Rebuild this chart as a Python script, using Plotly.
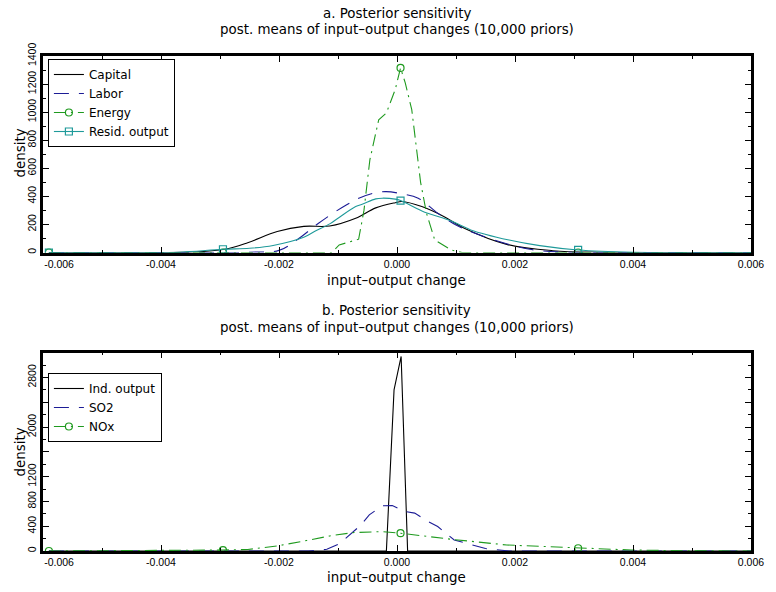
import numpy as np
import plotly.graph_objects as go

# ---------------- data ----------------
# panel a
cap_x = [-0.0059, -0.0045, -0.0035, -0.00292, -0.00253, -0.00203, -0.00158, -0.00114,
         -0.0007, -0.00036, -0.00003, 0.00008, 0.00042, 0.0008, 0.00114, 0.00186,
         0.00264, 0.0035, 0.0045, 0.006]
cap_y = [0, 0, 3, 23, 70, 150, 186, 189, 244, 318, 355, 363, 327, 255, 173, 58, 13, 2, 0, 0]

lab_x = [-0.0059, -0.0035, -0.0025, -0.0020, -0.0017, -0.00133, -0.00086, -0.00053,
         -0.0002, 0.00008, 0.00036, 0.00069, 0.001, 0.0013, 0.0018, 0.00225, 0.0028,
         0.0035, 0.006]
lab_y = [0, 0, 2, 15, 89, 208, 339, 406, 434, 418, 387, 280, 196, 140, 70, 23, 3, 0, 0]

en_x = [-0.0059, -0.00295, -0.0011, -0.00098, -0.00065, -0.00056, -0.00046, -0.00031,
        -0.00018, -0.00003, 0.00006, 0.00014, 0.00025, 0.0004, 0.0005, 0.00064, 0.00092,
        0.0011, 0.00307, 0.006]
en_y = [0, 0, 0, 54, 95, 300, 660, 946, 994, 1161, 1315, 1208, 1018, 500, 280, 89, 18,
        0, 0, 0]

res_x = [-0.0059, -0.0045, -0.0037, -0.00295, -0.0025, -0.0021, -0.00158, -0.0014,
         -0.00114, -0.0010, -0.0007, -0.00058, -0.00036, -0.00025, -0.00003, 0.00006,
         0.00047, 0.00075, 0.00092, 0.00125, 0.0019, 0.00242, 0.00307, 0.004, 0.005, 0.006]
res_y = [0, 0, 2, 23, 30, 50, 108, 149, 204, 244, 327, 345, 382, 387, 380, 370, 287, 250,
         225, 161, 89, 49, 18, 2, 0, 0]

# panel b
ind_x = [-0.0059, -0.00295, -0.00018, -0.00005, 0.00007, 0.00018, 0.00307, 0.006]
ind_y = [0, 0, 0, 2600, 3140, 0, 0, 0]

so2_x = [-0.0059, -0.00295, -0.0015, -0.00119, -0.00097, -0.00061, -0.00047, -0.00025,
         -0.00008, 0.00014, 0.0003, 0.00053, 0.00069, 0.00097, 0.0015, 0.0019, 0.00307, 0.006]
so2_y = [0, 0, 0, 27, 120, 420, 583, 729, 734, 637, 611, 475, 394, 178, 39, 0, 0, 0]

nox_x = [-0.0059, -0.0045, -0.00295, -0.00253, -0.00203, -0.00153, -0.00114, -0.00075,
         -0.00025, 0.00006, 0.00053, 0.00092, 0.00186, 0.00307, 0.00397, 0.005, 0.006]
nox_y = [0, 3, 15, 25, 81, 170, 243, 297, 313, 287, 232, 189, 97, 44, 16, 3, 0]

# x positions where the plot symbols are drawn
symbol_x = [-0.0059, -0.00295, 0.00006, 0.00307]

x_ticks = [-0.006, -0.004, -0.002, 0.0, 0.002, 0.004, 0.006]
x_ticktext = ["\u00a0" * 11 + "-0.006", "-0.004", "-0.002", "0.000", "0.002", "0.004", "0.006"]
ya_ticks = [0, 200, 400, 600, 800, 1000, 1200, 1400]
yb_ticks = [0, 400, 800, 1200, 1600, 2000, 2400, 2800, 3200]
yb_ticktext = ["0", "400", "800", "1200", "", "2000", "", "2800", ""]

# ---------------- styling ----------------
BLACK = "#000000"
NAVY = "#1c1c96"
GREEN = "#1f9a1f"
TEAL = "#1f9a9a"
TITLE_FONT = "DejaVu Sans"
TICK_FONT = "Liberation Sans"

W, H = 776, 592
ML, MR, MT, MB = 41, 13, 56, 41
PW, PH = W - ML - MR, H - MT - MB


def fx(p):
    return (p - ML) / PW


def fy(p):
    return (H - MB - p) / PH


def sym_colors(xs, color):
    return [color if np.any(np.isclose(x, symbol_x, atol=1e-7)) else "rgba(0,0,0,0)" for x in xs]


fig = go.Figure()


def add(xs, ys, name, color, dash, xa, ya, legend, shape="linear", symbol=None):
    kw = dict(x=xs, y=ys, name=name, xaxis=xa, yaxis=ya, legend=legend,
              line=dict(color=color, width=1.1, dash=dash, shape=shape))
    if symbol:
        kw["mode"] = "lines+markers"
        kw["marker"] = dict(symbol=symbol, size=7, color=sym_colors(xs, color),
                            line=dict(width=1.2))
    else:
        kw["mode"] = "lines"
    fig.add_trace(go.Scatter(**kw))


LONGDASH = "15px,10px"
DASHDOT = "12px,5px,2px,5px"

add(cap_x, cap_y, "Capital", BLACK, "solid", "x", "y", "legend", "spline")
add(lab_x, lab_y, "Labor", NAVY, LONGDASH, "x", "y", "legend", "spline")
add(en_x, en_y, "Energy", GREEN, DASHDOT, "x", "y", "legend", "linear", "circle-open")
add(res_x, res_y, "Resid. output", TEAL, "solid", "x", "y", "legend", "spline", "square-open")

add(ind_x, ind_y, "Ind. output", BLACK, "solid", "x2", "y2", "legend2")
add(so2_x, so2_y, "SO2", NAVY, LONGDASH, "x2", "y2", "legend2")
add(nox_x, nox_y, "NOx", GREEN, DASHDOT, "x2", "y2", "legend2", "linear", "circle-open")

tickfont = dict(family=TICK_FONT, size=10.5, color=BLACK)
common_ax = dict(showline=True, linewidth=2.5, linecolor=BLACK, mirror="ticks",
                 ticks="inside", ticklen=6, tickwidth=1, tickcolor=BLACK,
                 showgrid=False, zeroline=False, tickfont=tickfont)

xaxis_common = dict(common_ax, range=[-0.006, 0.006], tickmode="array", tickvals=x_ticks,
                    ticktext=x_ticktext,
                    minor=dict(tickmode="linear", tick0=0, dtick=0.001, ticks="inside",
                               ticklen=3, tickcolor=BLACK, showgrid=False))

top_dom = [fy(252.5), 1.0]
bot_dom = [0.0, fy(352.7)]

legend_font = dict(family=TITLE_FONT, size=12, color=BLACK)

fig.update_layout(
    width=W, height=H,
    margin=dict(l=ML, r=MR, t=MT, b=MB),
    paper_bgcolor="white", plot_bgcolor="white",
    xaxis=dict(xaxis_common, domain=[0, 1], anchor="y"),
    xaxis2=dict(xaxis_common, domain=[0, 1], anchor="y2"),
    yaxis=dict(common_ax, domain=top_dom, anchor="x", range=[0, 1400], tickmode="array",
               tickvals=ya_ticks, tickangle=-90,
               minor=dict(tickmode="linear", tick0=0, dtick=100, ticks="inside",
                          ticklen=3, tickcolor=BLACK, showgrid=False)),
    yaxis2=dict(common_ax, domain=bot_dom, anchor="x2", range=[0, 3200], tickmode="array",
                tickvals=yb_ticks, ticktext=yb_ticktext, tickangle=-90,
                minor=dict(tickmode="linear", tick0=0, dtick=200, ticks="inside",
                           ticklen=3, tickcolor=BLACK, showgrid=False)),
    legend=dict(x=fx(46), y=fy(59), xanchor="left", yanchor="top",
                bordercolor=BLACK, borderwidth=1, bgcolor="white",
                font=legend_font, itemwidth=30, tracegroupgap=0),
    legend2=dict(x=fx(46), y=fy(373), xanchor="left", yanchor="top",
                 bordercolor=BLACK, borderwidth=1, bgcolor="white",
                 font=legend_font, itemwidth=30, tracegroupgap=0),
    showlegend=True,
)

tfont = dict(family=TITLE_FONT, size=13.4, color=BLACK)
annots = [
    ("a. Posterior sensitivity", fx(401.5), fy(13.3), 0),
    ("post. means of input\u2013output changes (10,000 priors)", fx(401.5), fy(29.3), 0),
    ("input\u2013output change", fx(401.5), fy(280), 0),
    ("density", fx(18), fy(153), -90),
    ("b. Posterior sensitivity", fx(401.5), fy(310.7), 0),
    ("post. means of input\u2013output changes (10,000 priors)", fx(401.5), fy(327.3), 0),
    ("input\u2013output change", fx(401.5), fy(577.3), 0),
    ("density", fx(18), fy(452), -90),
]
for text, x, y, ang in annots:
    fig.add_annotation(text=text, x=x, y=y, xref="paper", yref="paper", showarrow=False,
                       xanchor="center", yanchor="middle", textangle=ang, font=tfont)

fig.write_html("out.html")
